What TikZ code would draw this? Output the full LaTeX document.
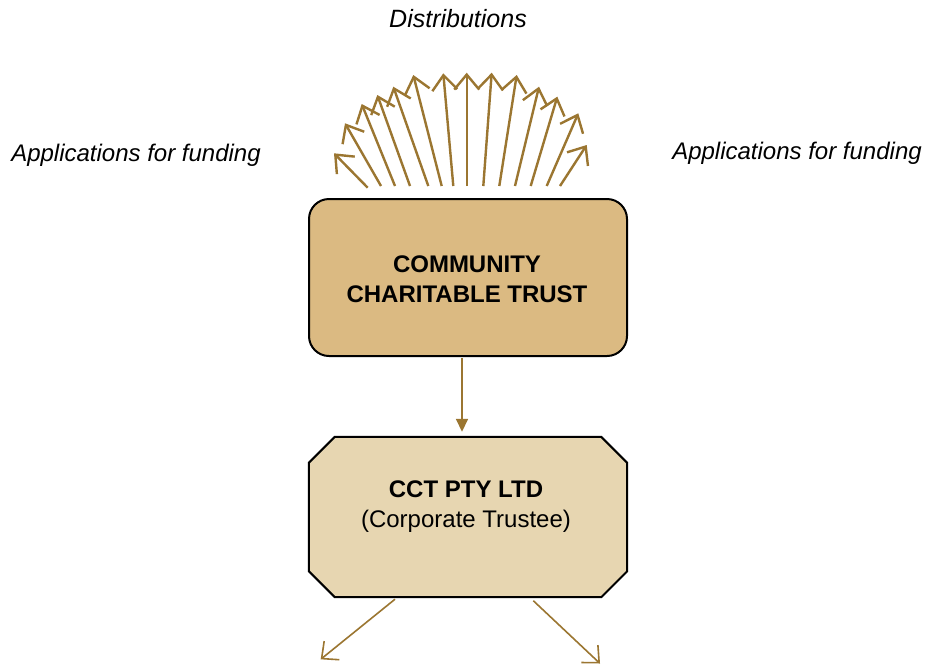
\documentclass[tikz,border=0pt]{standalone}
\usepackage{fontspec}
\setmainfont{Liberation Sans}
\usetikzlibrary{arrows.meta}
\definecolor{trustfill}{HTML}{DBBA82}
\definecolor{octfill}{HTML}{E7D6B1}
\definecolor{arrowbrown}{HTML}{9B7631}
\tikzset{
  trustbox/.style={draw=black, line width=2pt, fill=trustfill, rounded corners=20pt, minimum width=318pt, minimum height=157pt, inner sep=0pt},
  octarea/.style={minimum width=318pt, minimum height=160pt, inner sep=0pt},
  octline/.style={draw=black, line width=2pt, fill=octfill, line join=miter},
  lbl/.style={font=\fontsize{24}{30}\selectfont, inner sep=0pt, align=center},
  fanarrow/.style={draw=arrowbrown, line width=2.4pt, -{Straight Barb[length=15pt,width=25pt,line width=2.4pt]}},
  downarrow/.style={draw=arrowbrown, line width=1.6pt, -{Triangle[length=13pt,width=12pt]}},
  outarrow/.style={draw=arrowbrown, line width=1.6pt, -{Straight Barb[length=13pt,width=24pt,line width=1.6pt]}}
}
\begin{document}
\begin{tikzpicture}[x=1pt,y=-1pt]
\useasboundingbox (0,0) rectangle (929,665);
\fill[white] (0,0) rectangle (929,665);

\node[trustbox] (cct) at (468,277.5) {};
\node[lbl, font=\fontsize{24}{30}\selectfont\bfseries] (cctlbl) at (467,279) {COMMUNITY\\CHARITABLE TRUST};

\node[octarea] (oct) at (468,517) {};
\path[octline] ([xshift=26pt]oct.north west) -- ([xshift=-26pt]oct.north east)
  -- ([yshift=-26pt]oct.north east) -- ([yshift=26pt]oct.south east)
  -- ([xshift=-26pt]oct.south east) -- ([xshift=26pt]oct.south west)
  -- ([yshift=26pt]oct.south west) -- ([yshift=-26pt]oct.north west) -- cycle;
\node[lbl, font=\fontsize{24}{30}\selectfont, anchor=base] (octlbl) at (466,527) {\textbf{CCT PTY LTD}\\(Corporate Trustee)};

\node[lbl, font=\fontsize{25}{30}\selectfont\itshape, anchor=base] (dist) at (458,27) {Distributions};
\node[lbl, font=\fontsize{24}{30}\selectfont\itshape, anchor=base] (appl) at (136,161) {Applications for funding};
\node[lbl, font=\fontsize{24}{30}\selectfont\itshape, anchor=base] (appr) at (797,159) {Applications for funding};

% fan of distribution arrows
\foreach \sx/\sy/\tx/\ty [count=\i] in {
  367.7/187.7/334/153.3,
  381/186/345/123.3,
  395/186/361.7/104,
  410/186/377.3/95,
  428.3/186/393.3/86.7,
  441.7/186/413.3/75,
  453.3/186/443.3/73.3,
  466.7/186/466.7/72.7,
  483.3/186/491.7/72.7,
  499.3/186/516.7/75,
  515/186/539/86.7,
  530.7/186/557.3/96.7,
  546.7/186/578.3/113.3,
  560/186/586.7/145}{
  \coordinate (fs\i) at (\sx,\sy);
  \coordinate (ft\i) at (\tx,\ty);
  \draw[fanarrow] (fs\i) -- (ft\i);
}

\draw[downarrow, shorten >=5pt] ([xshift=-6pt,yshift=-1pt]cct.south) -- ([xshift=-6pt]oct.north);

\coordinate (outl) at (320.7,659.3);
\coordinate (outr) at (600,663.5);
\draw[outarrow] ([xshift=-73pt,yshift=-2pt]oct.south) -- (outl);
\draw[outarrow] ([xshift=65.3pt,yshift=-3.5pt]oct.south) -- (outr);
\end{tikzpicture}
\end{document}
